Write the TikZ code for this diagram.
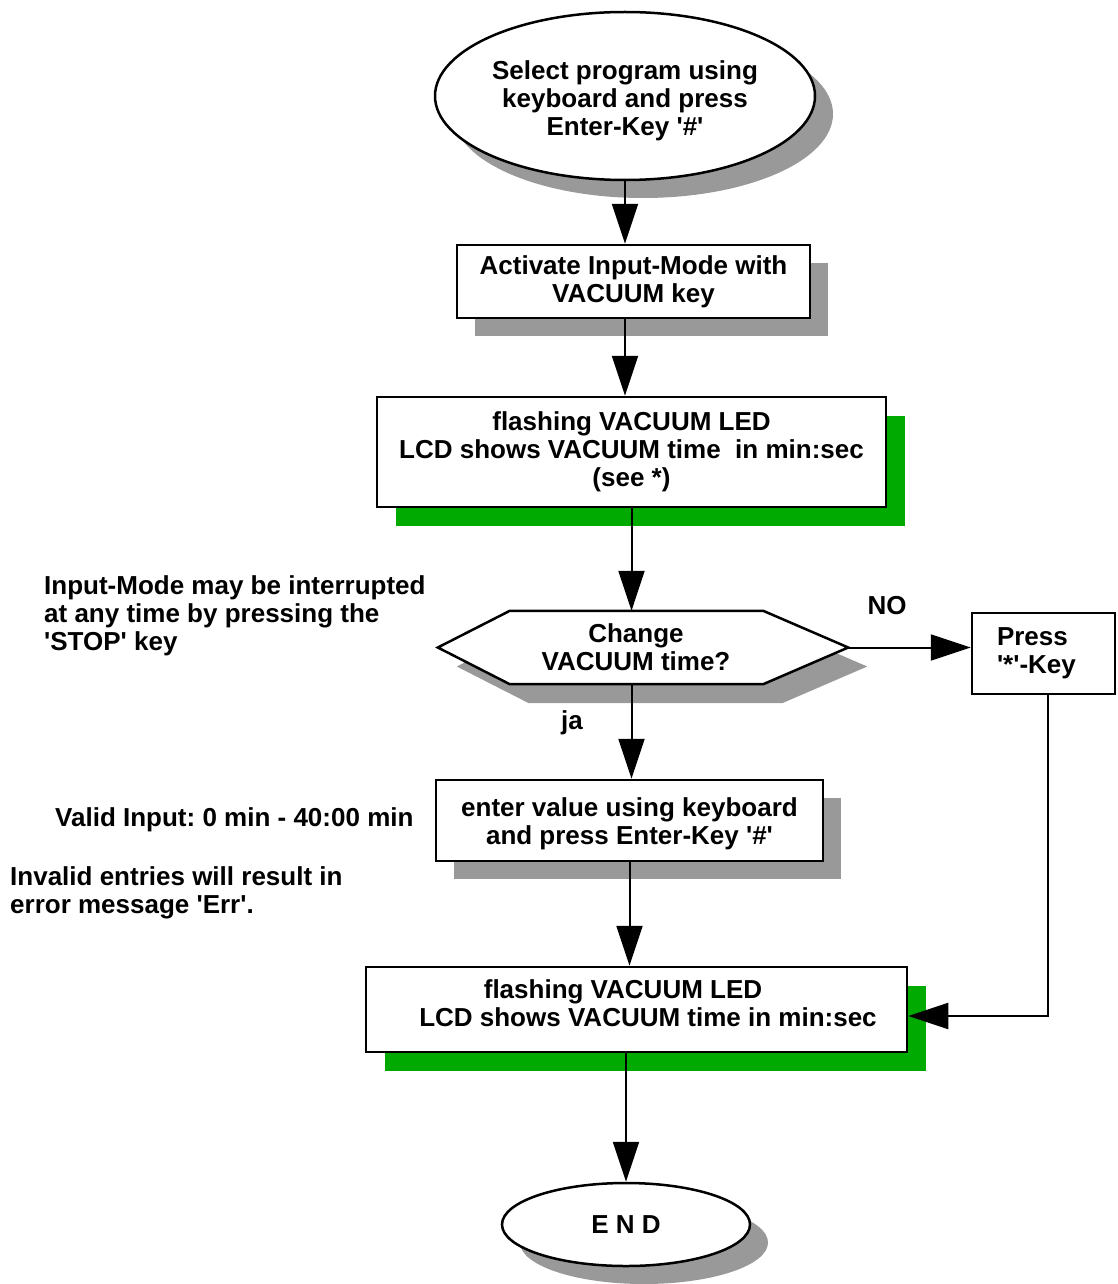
\documentclass[tikz,border=0pt]{standalone}
\usepackage{fontspec}
\setmainfont{Liberation Sans}
\usetikzlibrary{arrows.meta,shapes.geometric,shadows,calc}
\definecolor{shgray}{HTML}{999999}
\definecolor{shgreen}{HTML}{00AA00}
\newcommand{\aq}{\textquotesingle}
\frenchspacing
\begin{document}
\begin{tikzpicture}[x=1pt,y=-1pt,
  font=\fontsize{26}{28}\selectfont\bfseries\frenchspacing,
  box/.style={draw, line width=2.5pt, fill=white, rectangle, inner sep=0pt, align=center},
  gshadow/.style={drop shadow={shadow xshift=18pt, shadow yshift=-18pt, fill=shgray, opacity=1}},
  grshadow/.style={drop shadow={shadow xshift=19pt, shadow yshift=-19pt, fill=shgreen, opacity=1}},
  oval/.style={draw, ellipse, line width=2.5pt, fill=white, inner sep=0pt, align=center},
  arr/.style={line width=2pt, -{Triangle[length=40pt,width=26pt]}},
  txt/.style={inner sep=0pt, align=left}
]
\useasboundingbox (0,0) rectangle (1117,1284);

% nodes
\node[oval, gshadow, minimum width=380, minimum height=168] (start) at (625,96)
  {\rule{0pt}{29pt}Select program using\\ keyboard and press\\Enter-Key \aq\#\aq};
\node[box, gshadow, minimum width=353, minimum height=73] (b1) at (633.5,281.5)
  {Activate Input-Mode with\\VACUUM key};
\node[box, grshadow, minimum width=509, minimum height=110] (b2) at (631.5,452)
  {flashing VACUUM LED\\LCD shows VACUUM time~~in min:sec\\(see *)};

% decision hexagon
\node[inner sep=0pt, minimum width=410, minimum height=73] (dec) at (643,647.5) {};
\fill[shgray] ($(dec.west)+(19,19)$) -- ($(dec.north west)+(91,19)$) -- ($(dec.north east)+(-66,19)$)
  -- ($(dec.east)+(19,19)$) -- ($(dec.south east)+(-66,19)$) -- ($(dec.south west)+(91,19)$) -- cycle;
\draw[line width=2.5pt, fill=white] (dec.west) -- ($(dec.north west)+(72,0)$) -- ($(dec.north east)+(-85,0)$)
  -- (dec.east) -- ($(dec.south east)+(-85,0)$) -- ($(dec.south west)+(72,0)$) -- cycle;
\node[inner sep=0pt, align=center] (dectext) at (636,647) {Change\\VACUUM time?};

\node[box, minimum width=143, minimum height=81, text width=93, align=left] (press) at (1043.5,653.5)
  {Press\\\aq*\aq-Key};

\node[box, gshadow, minimum width=387, minimum height=81] (b3) at (629.5,820.5)
  {\rule{0pt}{25pt}enter value using keyboard\\and press Enter-Key \aq\#\aq};
\node[box, grshadow, minimum width=541, minimum height=85] (b4) at (636.5,1009.5)
  {\hspace*{-27pt}flashing VACUUM LED\\\hspace*{23pt}LCD shows VACUUM time in min:sec\rule[-13pt]{0pt}{13pt}};
\node[oval, gshadow, minimum width=248, minimum height=83] (end) at (626,1224.5) {E N D};

% labels
\node[inner sep=0pt, anchor=base] (no) at (887,614) {NO};
\node[inner sep=0pt, anchor=base] (ja) at (572,729) {ja};
\node[txt, anchor=north west] (note1) at (44,575)
  {Input-Mode may be interrupted\\at any time by pressing the\\\aq STOP\aq{} key};
\node[txt, anchor=north west] (note2) at (55,807) {Valid Input: 0 min - 40:00 min};
\node[txt, anchor=north west] (note3) at (10,866)
  {Invalid entries will result in\\error message \aq Err\aq.};

% connectors
\draw[arr] (start.south) -- (b1.north -| start.south);
\draw[arr] (b1.south -| start.south) -- (b2.north -| start.south);
\draw[arr] (b2.south) -- (dec.north -| b2.south);
\draw[arr] (dec.south -| b2.south) -- (b3.north -| b2.south);
\draw[arr] (b3.south) -- (b4.north -| b3.south);
\draw[arr] (b4.south -| end.north) -- (end.north);
\draw[arr] (dec.east) -- (press.west |- dec.east);
\draw[arr] ($(press.south)+(4.5,0)$) |- ($(b4.east)+(0,6.5)$);
\end{tikzpicture}
\end{document}
